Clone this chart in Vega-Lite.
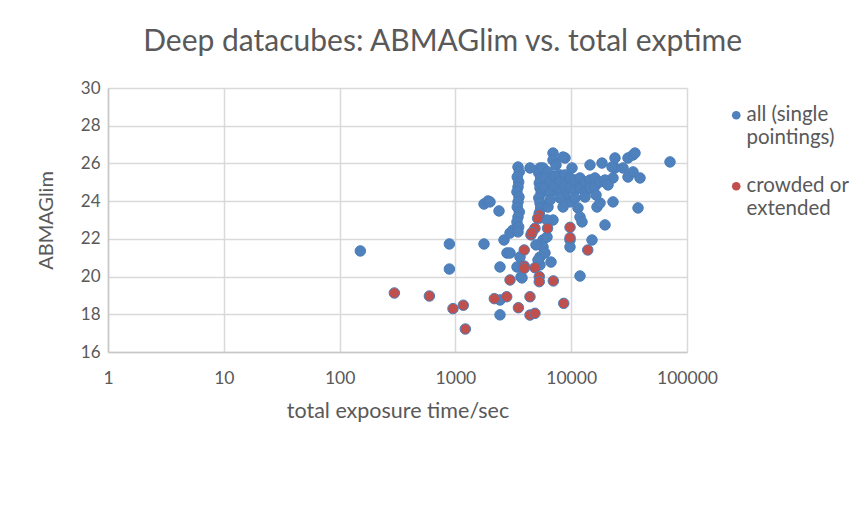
{
  "$schema": "https://vega.github.io/schema/vega-lite/v6.json",
  "width": 579,
  "height": 264,
  "autosize": {"type": "none"},
  "padding": {"left": 108, "top": 88, "right": 179, "bottom": 154},
  "background": "white",
  "title": {
    "text": "Deep datacubes: ABMAGlim vs. total exptime",
    "font": "Lato",
    "fontSize": 30,
    "fontWeight": "normal",
    "color": "#595959",
    "anchor": "middle",
    "frame": "bounds",
    "offset": 22
  },
  "config": {
    "view": {"stroke": null},
    "font": "Lato",
    "axis": {
      "labelFont": "Lato",
      "titleFont": "Lato",
      "labelColor": "#595959",
      "titleColor": "#595959",
      "titleFontWeight": "normal",
      "gridColor": "#d9d9d9",
      "gridWidth": 1.5,
      "domainColor": "#c8c8c8",
      "domainWidth": 1.5,
      "ticks": false
    },
    "legend": {"labelFont": "Lato", "labelColor": "#595959"}
  },
  "data": {
    "values": [
      {"t": 151, "m": 21.36, "g": "all"},
      {"t": 887, "m": 21.73, "g": "all"},
      {"t": 887, "m": 20.40, "g": "all"},
      {"t": 1766, "m": 21.73, "g": "all"},
      {"t": 1766, "m": 23.85, "g": "all"},
      {"t": 1912, "m": 24.01, "g": "all"},
      {"t": 2380, "m": 23.48, "g": "all"},
      {"t": 1990, "m": 23.96, "g": "all"},
      {"t": 2628, "m": 21.94, "g": "all"},
      {"t": 2790, "m": 21.25, "g": "all"},
      {"t": 2427, "m": 20.51, "g": "all"},
      {"t": 2427, "m": 18.76, "g": "all"},
      {"t": 2427, "m": 17.97, "g": "all"},
      {"t": 2962, "m": 21.25, "g": "all"},
      {"t": 3404, "m": 20.51, "g": "all"},
      {"t": 3686, "m": 19.98, "g": "all"},
      {"t": 3144, "m": 22.47, "g": "all"},
      {"t": 2962, "m": 22.31, "g": "all"},
      {"t": 3614, "m": 21.04, "g": "all"},
      {"t": 3760, "m": 19.93, "g": "all"},
      {"t": 3473, "m": 25.81, "g": "all"},
      {"t": 3560, "m": 25.55, "g": "all"},
      {"t": 3420, "m": 25.28, "g": "all"},
      {"t": 3520, "m": 25.02, "g": "all"},
      {"t": 3473, "m": 24.75, "g": "all"},
      {"t": 3400, "m": 24.49, "g": "all"},
      {"t": 3540, "m": 24.22, "g": "all"},
      {"t": 3473, "m": 23.96, "g": "all"},
      {"t": 3420, "m": 23.69, "g": "all"},
      {"t": 3560, "m": 23.43, "g": "all"},
      {"t": 3473, "m": 23.16, "g": "all"},
      {"t": 3400, "m": 22.90, "g": "all"},
      {"t": 3520, "m": 22.63, "g": "all"},
      {"t": 3473, "m": 22.37, "g": "all"},
      {"t": 5378, "m": 25.76, "g": "all"},
      {"t": 5250, "m": 25.49, "g": "all"},
      {"t": 5450, "m": 25.23, "g": "all"},
      {"t": 5300, "m": 24.96, "g": "all"},
      {"t": 5378, "m": 24.70, "g": "all"},
      {"t": 5500, "m": 24.43, "g": "all"},
      {"t": 5250, "m": 24.17, "g": "all"},
      {"t": 5378, "m": 23.90, "g": "all"},
      {"t": 5450, "m": 23.64, "g": "all"},
      {"t": 5300, "m": 23.37, "g": "all"},
      {"t": 5378, "m": 23.11, "g": "all"},
      {"t": 5708, "m": 21.94, "g": "all"},
      {"t": 5708, "m": 21.57, "g": "all"},
      {"t": 5378, "m": 21.04, "g": "all"},
      {"t": 5378, "m": 20.62, "g": "all"},
      {"t": 5938, "m": 21.25, "g": "all"},
      {"t": 4966, "m": 21.68, "g": "all"},
      {"t": 5168, "m": 20.88, "g": "all"},
      {"t": 6181, "m": 22.10, "g": "all"},
      {"t": 4408, "m": 25.76, "g": "all"},
      {"t": 5708, "m": 25.76, "g": "all"},
      {"t": 6305, "m": 25.55, "g": "all"},
      {"t": 6963, "m": 26.55, "g": "all"},
      {"t": 6963, "m": 26.18, "g": "all"},
      {"t": 7391, "m": 25.92, "g": "all"},
      {"t": 8842, "m": 26.29, "g": "all"},
      {"t": 10160, "m": 25.76, "g": "all"},
      {"t": 8006, "m": 25.39, "g": "all"},
      {"t": 8500, "m": 26.34, "g": "all"},
      {"t": 23890, "m": 26.29, "g": "all"},
      {"t": 30940, "m": 26.29, "g": "all"},
      {"t": 34190, "m": 26.45, "g": "all"},
      {"t": 35550, "m": 26.55, "g": "all"},
      {"t": 28020, "m": 25.76, "g": "all"},
      {"t": 23890, "m": 25.76, "g": "all"},
      {"t": 22960, "m": 25.23, "g": "all"},
      {"t": 30940, "m": 25.28, "g": "all"},
      {"t": 39280, "m": 25.23, "g": "all"},
      {"t": 34190, "m": 25.55, "g": "all"},
      {"t": 71320, "m": 26.08, "g": "all"},
      {"t": 22960, "m": 23.96, "g": "all"},
      {"t": 37760, "m": 23.64, "g": "all"},
      {"t": 18450, "m": 26.02, "g": "all"},
      {"t": 14535, "m": 25.92, "g": "all"},
      {"t": 22510, "m": 25.81, "g": "all"},
      {"t": 16700, "m": 23.69, "g": "all"},
      {"t": 17740, "m": 23.90, "g": "all"},
      {"t": 19590, "m": 22.74, "g": "all"},
      {"t": 15120, "m": 21.94, "g": "all"},
      {"t": 11912, "m": 20.03, "g": "all"},
      {"t": 9764, "m": 21.94, "g": "all"},
      {"t": 9764, "m": 21.57, "g": "all"},
      {"t": 6692, "m": 20.77, "g": "all"},
      {"t": 6963, "m": 23.00, "g": "all"},
      {"t": 11450, "m": 23.64, "g": "all"},
      {"t": 11912, "m": 23.16, "g": "all"},
      {"t": 12397, "m": 22.90, "g": "all"},
      {"t": 9764, "m": 23.96, "g": "all"},
      {"t": 8500, "m": 23.69, "g": "all"},
      {"t": 6305, "m": 23.69, "g": "all"},
      {"t": 6181, "m": 23.00, "g": "all"},
      {"t": 5938, "m": 25.23, "g": "all"},
      {"t": 5938, "m": 24.70, "g": "all"},
      {"t": 6560, "m": 25.02, "g": "all"},
      {"t": 6560, "m": 24.43, "g": "all"},
      {"t": 7246, "m": 25.33, "g": "all"},
      {"t": 7246, "m": 24.80, "g": "all"},
      {"t": 8006, "m": 25.02, "g": "all"},
      {"t": 8006, "m": 24.49, "g": "all"},
      {"t": 8842, "m": 25.39, "g": "all"},
      {"t": 8842, "m": 24.80, "g": "all"},
      {"t": 8842, "m": 24.33, "g": "all"},
      {"t": 9764, "m": 25.23, "g": "all"},
      {"t": 9764, "m": 24.70, "g": "all"},
      {"t": 10786, "m": 25.12, "g": "all"},
      {"t": 10786, "m": 24.59, "g": "all"},
      {"t": 11912, "m": 25.23, "g": "all"},
      {"t": 11912, "m": 24.70, "g": "all"},
      {"t": 13160, "m": 25.02, "g": "all"},
      {"t": 13160, "m": 24.49, "g": "all"},
      {"t": 14535, "m": 25.12, "g": "all"},
      {"t": 14535, "m": 24.70, "g": "all"},
      {"t": 16055, "m": 25.23, "g": "all"},
      {"t": 16055, "m": 24.80, "g": "all"},
      {"t": 17740, "m": 25.02, "g": "all"},
      {"t": 19590, "m": 25.12, "g": "all"},
      {"t": 20790, "m": 24.86, "g": "all"},
      {"t": 16377, "m": 24.33, "g": "all"},
      {"t": 13160, "m": 24.22, "g": "all"},
      {"t": 10786, "m": 24.17, "g": "all"},
      {"t": 8006, "m": 24.17, "g": "all"},
      {"t": 6560, "m": 24.06, "g": "all"},
      {"t": 297, "m": 19.13, "g": "crowded"},
      {"t": 596, "m": 18.97, "g": "crowded"},
      {"t": 953, "m": 18.30, "g": "crowded"},
      {"t": 1170, "m": 18.48, "g": "crowded"},
      {"t": 1218, "m": 17.22, "g": "crowded"},
      {"t": 2168, "m": 18.83, "g": "crowded"},
      {"t": 2773, "m": 18.93, "g": "crowded"},
      {"t": 2963, "m": 19.82, "g": "crowded"},
      {"t": 3500, "m": 18.35, "g": "crowded"},
      {"t": 4406, "m": 18.93, "g": "crowded"},
      {"t": 4406, "m": 17.96, "g": "crowded"},
      {"t": 4865, "m": 18.05, "g": "crowded"},
      {"t": 3930, "m": 21.41, "g": "crowded"},
      {"t": 3930, "m": 20.56, "g": "crowded"},
      {"t": 3930, "m": 20.44, "g": "crowded"},
      {"t": 4865, "m": 20.47, "g": "crowded"},
      {"t": 5300, "m": 20.00, "g": "crowded"},
      {"t": 5300, "m": 19.73, "g": "crowded"},
      {"t": 7010, "m": 19.77, "g": "crowded"},
      {"t": 8620, "m": 18.58, "g": "crowded"},
      {"t": 5300, "m": 23.27, "g": "crowded"},
      {"t": 5130, "m": 23.09, "g": "crowded"},
      {"t": 4865, "m": 22.56, "g": "crowded"},
      {"t": 4490, "m": 22.21, "g": "crowded"},
      {"t": 4580, "m": 22.33, "g": "crowded"},
      {"t": 6250, "m": 22.56, "g": "crowded"},
      {"t": 9770, "m": 22.61, "g": "crowded"},
      {"t": 9770, "m": 22.06, "g": "crowded"},
      {"t": 13900, "m": 21.41, "g": "crowded"}
    ]
  },
  "mark": {"type": "point", "filled": true, "opacity": 1, "size": 110, "stroke": "#4A7EBB", "strokeWidth": 1},
  "encoding": {
    "x": {
      "field": "t", "type": "quantitative",
      "scale": {"type": "log", "domain": [1, 100000], "nice": false},
      "axis": {"values": [1, 10, 100, 1000, 10000, 100000], "format": "d", "labelFontSize": 17.5, "labelPadding": 17, "title": "total exposure time/sec", "titleFontSize": 21.5, "titlePadding": 14, "labelFlush": false}
    },
    "y": {
      "field": "m", "type": "quantitative",
      "scale": {"domain": [16, 30], "nice": false, "zero": false},
      "axis": {"values": [16, 18, 20, 22, 24, 26, 28, 30], "labelFontSize": 17, "labelPadding": 8, "title": "ABMAGlim", "titleFontSize": 20, "titlePadding": 24}
    },
    "color": {
      "field": "g", "type": "nominal",
      "scale": {"domain": ["all", "crowded"], "range": ["#4F81BD", "#C0504D"]},
      "legend": {
        "title": null,
        "orient": "none",
        "legendX": 618,
        "legendY": 17,
        "labelFontSize": 20.5,
        "symbolSize": 75,
        "symbolStrokeWidth": 0,
        "labelOffset": 0,
        "rowPadding": 27,
        "labelBaseline": "middle",
        "labelExpr": "datum.value == 'all' ? ['all (single', 'pointings)'] : ['crowded or', 'extended']"
      }
    }
  }
}
